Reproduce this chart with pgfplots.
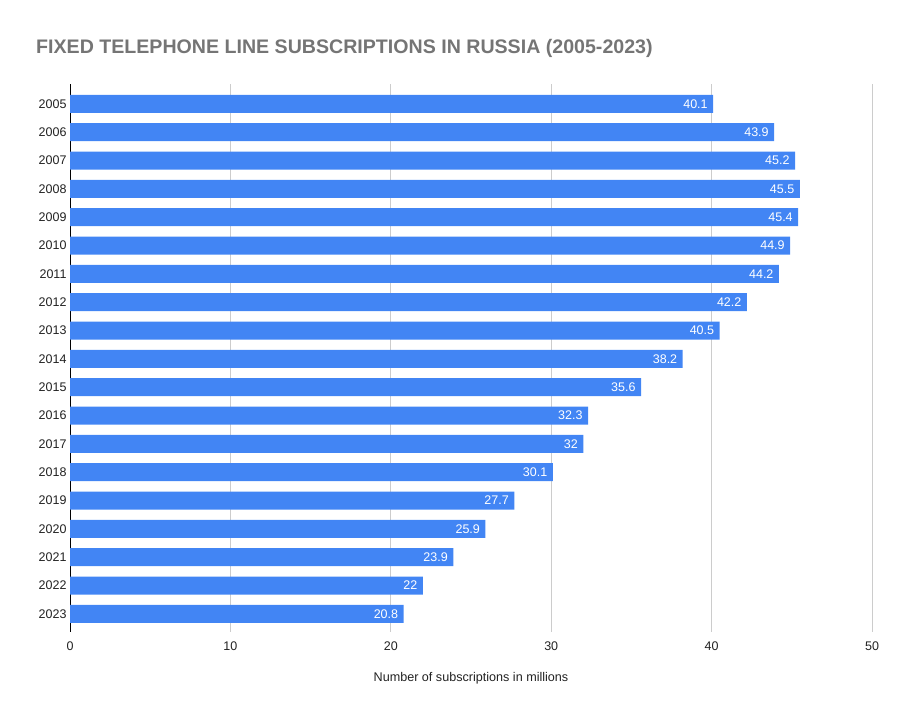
\documentclass[border=0pt]{standalone}
\usepackage{fontspec}
\setmainfont{Liberation Sans}
\usepackage{pgfplots}
\pgfplotsset{compat=1.18}
\definecolor{barblue}{HTML}{4285F4}
\definecolor{gridgray}{HTML}{CCCCCC}
\definecolor{titlegray}{HTML}{757575}
\definecolor{textdark}{HTML}{222222}
\begin{document}
\begin{tikzpicture}
\useasboundingbox (0,0) rectangle (909pt,721pt);
\node[anchor=west, text=titlegray, font=\fontsize{19.6}{22}\selectfont\bfseries, inner sep=0pt]
  at (36pt,673pt) {FIXED TELEPHONE LINE SUBSCRIPTIONS IN RUSSIA (2005-2023)};
\begin{axis}[
    at={(70pt,89pt)}, anchor=south west,
    scale only axis, width=802pt, height=548pt,
    xbar, bar width=18pt,
    xmin=0, xmax=50,
    ymin=-0.7, ymax=18.64,
    y dir=reverse,
    ytick={0,...,18},
    yticklabels={2005,2006,2007,2008,2009,2010,2011,2012,2013,2014,2015,2016,2017,2018,2019,2020,2021,2022,2023},
    xtick={0,10,20,30,40,50},
    xmajorgrids, grid style={draw=gridgray, line width=0.8pt},
    axis lines*=left,
    x axis line style={draw=none},
    y axis line style={draw=black, line width=0.8pt},
    major tick length=0pt,
    tick label style={font=\fontsize{12.5}{14}\selectfont, text=textdark},
    xticklabel style={yshift=-6pt},
    /pgf/number format/assume math mode=true,
    xlabel={Number of subscriptions in millions},
    xlabel style={at={(axis description cs:0.5,0)}, anchor=center, yshift=-46pt,
                  font=\fontsize{12.6}{14}\selectfont, text=textdark},
    point meta=x,
    nodes near coords,
    every node near coord/.append style={anchor=east, text=white, xshift=-2pt,
                  font=\fontsize{12.5}{14}\selectfont},
]
\addplot[fill=barblue, draw=none] coordinates {
    (40.1,0) (43.9,1) (45.2,2) (45.5,3) (45.4,4) (44.9,5) (44.2,6)
    (42.2,7) (40.5,8) (38.2,9) (35.6,10) (32.3,11) (32,12) (30.1,13)
    (27.7,14) (25.9,15) (23.9,16) (22,17) (20.8,18)
};
\end{axis}
\end{tikzpicture}
\end{document}
